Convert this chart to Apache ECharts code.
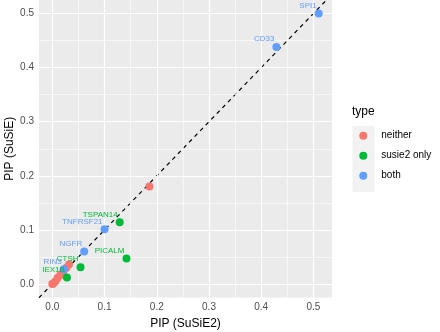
<!DOCTYPE html>
<html>
<head>
<meta charset="utf-8">
<script src="https://cdn.jsdelivr.net/npm/echarts@6/dist/echarts.min.js"></script>
<style>
  html, body { margin: 0; padding: 0; background: #fff; }
  #chart { width: 440px; height: 332px; }
</style>
</head>
<body>
<div id="chart"></div>
<script>
// values
const neitherX = [0, 0.002, 0.006, 0.01, 0.015, 0.021, 0.027, 0.032, 0.186];
const neitherY = [0, 0.001, 0.005, 0.011, 0.016, 0.023, 0.03, 0.036, 0.18];

const susie2Names = ['IEX1B', 'CTSH', 'PICALM', 'TSPAN14'];
const susie2X = [0.028, 0.054, 0.142, 0.129];
const susie2Y = [0.012, 0.031, 0.047, 0.114];

const bothNames = ['RIN3', 'NGFR', 'TNFRSF21', 'CD33', 'SPI1'];
const bothX = [0.022, 0.061, 0.1, 0.429, 0.51];
const bothY = [0.027, 0.06, 0.101, 0.438, 0.5];

const typeNames = ['neither', 'susie2 only', 'both'];
const typeColors = ['#F8766D', '#00BA38', '#619CFF'];

const xTicks = [0, 0.1, 0.2, 0.3, 0.4, 0.5];
const yTicks = [0, 0.1, 0.2, 0.3, 0.4, 0.5];
const xMinor = [0.05, 0.15, 0.25, 0.35, 0.45];
const yMinor = [0.05, 0.15, 0.25, 0.35, 0.45];

const xRange = [-0.0255, 0.5355];
const yRange = [-0.025, 0.525];

const font = '"Liberation Sans", Arial, sans-serif';

const myChart = echarts.init(document.getElementById('chart'));

function pts(xs, ys, names) {
  return xs.map((x, i) => names ? { name: names[i], value: [x, ys[i]] } : [x, ys[i]]);
}

// panel grid lines: one segment per break, through the axes' own scales
function gridLines(vals, vertical, width) {
  return vals.map(v => (vertical
    ? [{ coord: [v, yRange[0]] }, { coord: [v, yRange[1]] }]
    : [{ coord: [xRange[0], v] }, { coord: [xRange[1], v] }]
  ).map(p => Object.assign(p, { lineStyle: { color: '#ffffff', width: width, type: 'solid' } })));
}

function pointSeries(idx, data) {
  return {
    name: typeNames[idx],
    type: 'scatter',
    data: data,
    symbolSize: 8,
    itemStyle: { color: typeColors[idx], opacity: 1 },
    label: {
      show: true,
      formatter: p => p.name || '',
      position: [2, -4],
      align: 'right',
      verticalAlign: 'middle',
      color: typeColors[idx],
      fontSize: 8,
      fontFamily: font
    },
    z: 6
  };
}

const option = {
  animation: false,
  grid: {
    left: 39, right: 108, top: 0, bottom: 34.5,
    outerBoundsMode: 'none', containLabel: false,
    show: true, backgroundColor: '#EBEBEB', borderWidth: 0
  },
  xAxis: {
    type: 'value', min: xRange[0], max: xRange[1],
    name: 'PIP (SuSiE2)', nameLocation: 'middle', nameGap: 20, nameMoveOverlap: false,
    nameTextStyle: { color: '#000', fontSize: 12, fontFamily: font },
    axisLine: { show: false },
    splitLine: { show: false },
    axisTick: { show: true, customValues: xTicks, length: 3, lineStyle: { color: '#333' } },
    axisLabel: {
      customValues: xTicks, margin: 5, color: '#4D4D4D', fontSize: 10, fontFamily: font,
      formatter: v => v.toFixed(1)
    }
  },
  yAxis: {
    type: 'value', min: yRange[0], max: yRange[1],
    name: 'PIP (SuSiE)', nameLocation: 'middle', nameGap: 23, nameMoveOverlap: false,
    nameTextStyle: { color: '#000', fontSize: 12, fontFamily: font },
    axisLine: { show: false },
    splitLine: { show: false },
    axisTick: { show: true, customValues: yTicks, length: 3, lineStyle: { color: '#333' } },
    axisLabel: {
      customValues: yTicks, margin: 5, color: '#4D4D4D', fontSize: 10, fontFamily: font,
      formatter: v => v.toFixed(1)
    }
  },
  legend: {
    orient: 'vertical',
    left: 359.3, top: 130.7, padding: 0,
    itemWidth: 8, itemHeight: 8, itemGap: 10,
    icon: 'circle',
    data: typeNames,
    textStyle: { color: '#000', fontSize: 10, fontFamily: font, padding: [0, 0, 0, 9] }
  },
  graphic: [
    { type: 'rect', shape: { x: 352.5, y: 126, width: 22, height: 66 }, style: { fill: '#F2F2F2' }, z: -1 },
    { type: 'text', left: 352, top: 106, style: { text: 'type', fill: '#000', fontSize: 12, fontFamily: font } }
  ],
  series: [
    {
      type: 'line', silent: true, symbol: 'none', clip: true, z: 3,
      data: [[xRange[0], xRange[0]], [xRange[1], xRange[1]]],
      lineStyle: { color: '#000', width: 1.2, type: [4, 4] },
      markLine: {
        silent: true, symbol: ['none', 'none'], label: { show: false },
        animation: false,
        data: [
          ...gridLines(xMinor, true, 0.6),
          ...gridLines(yMinor, false, 0.6),
          ...gridLines(xTicks, true, 1.2),
          ...gridLines(yTicks, false, 1.2)
        ]
      }
    },
    pointSeries(0, pts(neitherX, neitherY)),
    pointSeries(1, pts(susie2X, susie2Y, susie2Names)),
    pointSeries(2, pts(bothX, bothY, bothNames))
  ]
};

myChart.setOption(option);
</script>
</body>
</html>
